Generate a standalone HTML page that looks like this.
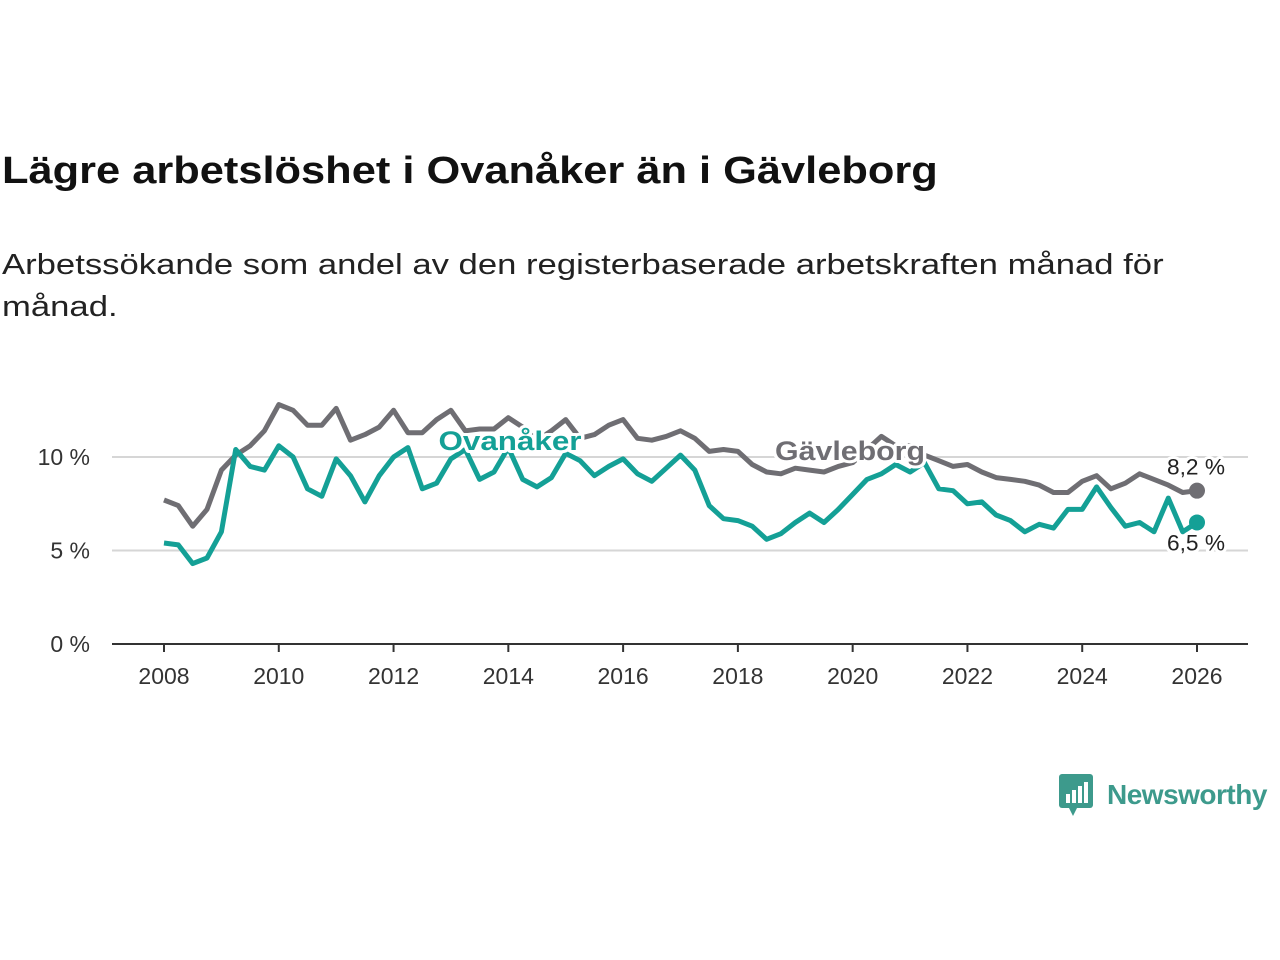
<!DOCTYPE html>
<html><head><meta charset="utf-8"><style>
body{margin:0;width:1280px;height:960px;background:#fff;font-family:"Liberation Sans","DejaVu Sans",sans-serif;overflow:hidden;position:relative}
h1{position:absolute;left:2px;top:150px;margin:0;font-size:38px;font-weight:bold;color:#111;transform:scaleX(1.142);transform-origin:0 0;white-space:nowrap}
p{position:absolute;left:2px;top:244px;margin:0;font-size:29px;line-height:42px;color:#222;transform:scaleX(1.195);transform-origin:0 0;white-space:nowrap}
</style></head><body>
<h1>Lägre arbetslöshet i Ovanåker än i Gävleborg</h1>
<p>Arbetssökande som andel av den registerbaserade arbetskraften månad för<br>månad.</p>
<svg id="chart" width="1280" height="960" style="position:absolute;left:0;top:0"></svg>
<div style="position:absolute;left:1059px;top:774px;display:flex;align-items:center">
<svg width="34" height="42"><rect x="0" y="0" width="34" height="34" rx="3" fill="#3d9a8c"/><path d="M10 34 L14 42 L18 34Z" fill="#3d9a8c"/><rect x="7" y="20" width="4" height="9" fill="#fff"/><rect x="13" y="16" width="4" height="13" fill="#fff"/><rect x="19" y="12" width="4" height="17" fill="#fff"/><rect x="25" y="8" width="4" height="21" fill="#fff"/></svg>
<span style="font-size:28px;color:#3d9a8c;margin-left:14px;font-weight:bold;letter-spacing:-0.5px">Newsworthy</span></div>
<script>
const startYear = 2008;
const stepYears = 0.25;
const gavleborg = [7.7,7.4,6.3,7.2,9.3,10.1,10.6,11.4,12.8,12.5,11.7,11.7,12.6,10.9,11.2,11.6,12.5,11.3,11.3,12.0,12.5,11.4,11.5,11.5,12.1,11.6,10.9,11.4,12.0,11.0,11.2,11.7,12.0,11.0,10.9,11.1,11.4,11.0,10.3,10.4,10.3,9.6,9.2,9.1,9.4,9.3,9.2,9.5,9.7,10.4,11.1,10.6,10.6,10.1,9.8,9.5,9.6,9.2,8.9,8.8,8.7,8.5,8.1,8.1,8.7,9.0,8.3,8.6,9.1,8.8,8.5,8.1,8.2];
const ovanaker = [5.4,5.3,4.3,4.6,6.0,10.4,9.5,9.3,10.6,10.0,8.3,7.9,9.9,9.0,7.6,9.0,10.0,10.5,8.3,8.6,9.9,10.4,8.8,9.2,10.5,8.8,8.4,8.9,10.2,9.8,9.0,9.5,9.9,9.1,8.7,9.4,10.1,9.3,7.4,6.7,6.6,6.3,5.6,5.9,6.5,7.0,6.5,7.2,8.0,8.8,9.1,9.6,9.2,9.7,8.3,8.2,7.5,7.6,6.9,6.6,6.0,6.4,6.2,7.2,7.2,8.4,7.3,6.3,6.5,6.0,7.8,6.0,6.5];
const yTicks = [0,5,10];
const yTickLabels = ["0 %","5 %","10 %"];
const xTicks = [2008,2010,2012,2014,2016,2018,2020,2022,2024,2026];
const NS="http://www.w3.org/2000/svg";
const svg=document.getElementById('chart');
const X=y=>164+(y-2008)*(1197-164)/18;
const Y=v=>644-v*18.7;
function el(t,a,p){const e=document.createElementNS(NS,t);for(const k in a)e.setAttribute(k,a[k]);(p||svg).appendChild(e);return e;}
yTicks.forEach((t,i)=>{
  if(t>0){const g=el('line',{x1:112,x2:1248,y1:Y(t),y2:Y(t),stroke:'#d6d6d6','stroke-width':2});
  
  }
  const tx=el('text',{x:90,y:Y(t)+8,'text-anchor':'end','font-size':23,fill:'#333'});tx.textContent=yTickLabels[i];
  
  
});
const ax=el('line',{x1:112,x2:1248,y1:644,y2:644,stroke:'#333','stroke-width':2});


xTicks.forEach(t=>{
  const tk=el('line',{x1:X(t),x2:X(t),y1:644,y2:652,stroke:'#333','stroke-width':2});
  
  
  const tx=el('text',{x:X(t),y:684,'text-anchor':'middle','font-size':23,fill:'#333'});tx.textContent=t;
  
  
});
function line(data,color,name){
  const d=data.map((v,i)=>(i?'L':'M')+X(startYear+i*stepYears).toFixed(1)+' '+Y(v).toFixed(1)).join('');
  const p=el('path',{d:d,fill:'none',stroke:color,'stroke-width':5,'stroke-linejoin':'round'});
  
  
  const n=data.length-1;
  const c=el('circle',{cx:X(startYear+n*stepYears),cy:Y(data[n]),r:8,fill:color});
  
  
}
line(gavleborg,'#6f6e73','gavleborg-line');
line(ovanaker,'#14a096','ovanaker-line');
function label(txt,x,y,color,name,size,bold,len){
  const a={x:x,y:y,'text-anchor':'middle','font-size':size,'font-weight':bold?'bold':'normal',fill:color,stroke:'#fff','stroke-width':6,'paint-order':'stroke','stroke-linejoin':'round'};
  if(len){a.textLength=len;a.lengthAdjust='spacingAndGlyphs';}
  const t=el('text',a);
  t.textContent=txt;
  
  
}
label('Ovanåker',510,450,'#14a096','ovanaker-label',27,true,143);
label('Gävleborg',850,460,'#6f6e73','gavleborg-label',27,true,150);
const n=gavleborg.length-1;
label(String(gavleborg[n]).replace('.',',')+' %',1196,Y(gavleborg[n])-16,'#222','gavleborg-value',22,false,58);
label(String(ovanaker[n]).replace('.',',')+' %',1196,Y(ovanaker[n])+28,'#222','ovanaker-value',22,false,58);
</script>
</body></html>
